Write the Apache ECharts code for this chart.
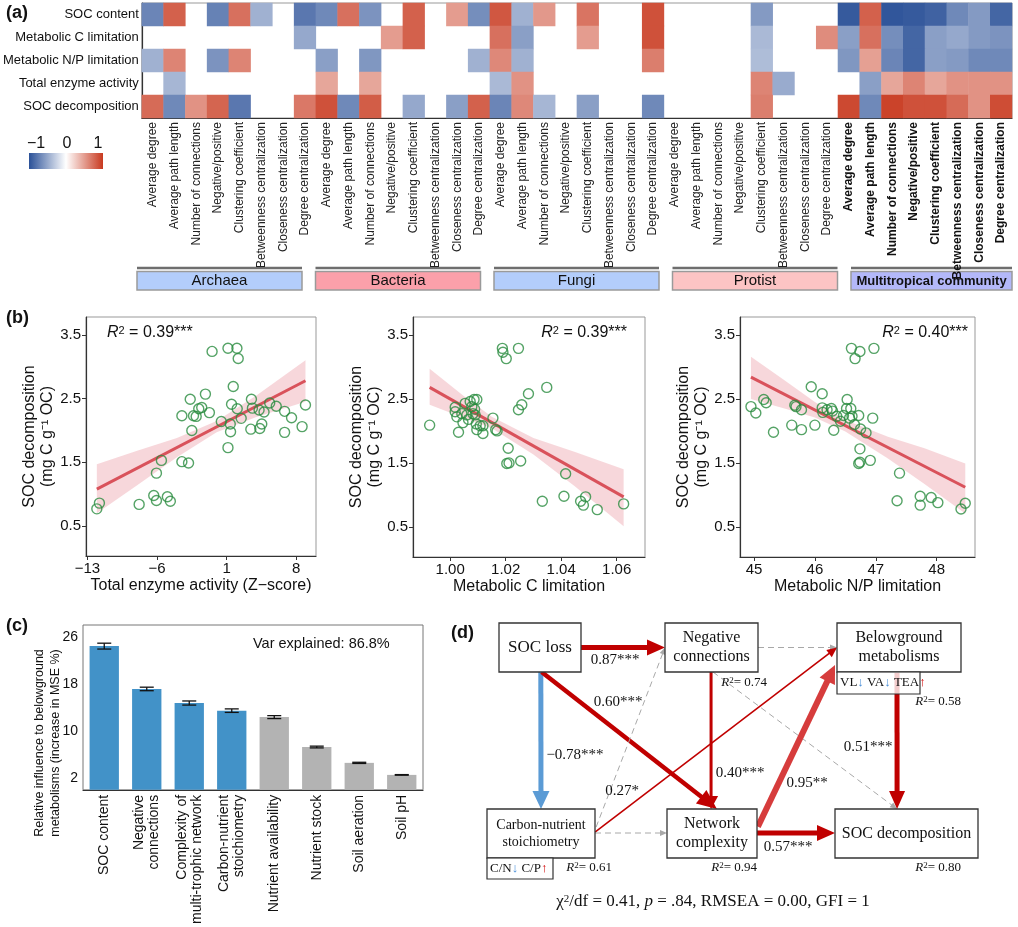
<!DOCTYPE html>
<html><head><meta charset="utf-8">
<script src="https://cdn.jsdelivr.net/npm/echarts@6.0.0/dist/echarts.min.js"></script>
<style>html,body{margin:0;padding:0;background:#fff}#c{width:1018px;height:927px}</style>
</head><body><div id="c"></div>
<script>
// ================= DATA =================
// (a) heatmap
const heatRows = ['SOC content','Metabolic C limitation','Metabolic N/P limitation','Total enzyme activity','SOC decomposition'];
const groupNames = ['Archaea','Bacteria','Fungi','Protist','Multitropical community'];
const metricNames = ['Average degree','Average path length','Number of connections','Negative/positive','Clustering coefficient','Betweenness centralization','Closeness centralization','Degree centralization'];
const _ = null;
const rSOCcontent = [-0.7,0.8,_,-0.72,0.72,-0.45,_,-0.78, -0.68,0.72,-0.62,_,0.8,_,0.5,-0.65, 0.85,-0.45,0.52,_,0.7,_,_,0.88, _,_,_,_,-0.58,_,_,_, -0.95,0.8,-0.97,-0.95,-0.9,-0.68,-0.58,-0.88];
const rMetC = [_,_,_,_,_,_,_,-0.5, _,_,_,0.5,0.8,_,_,_, 0.72,-0.55,_,_,0.5,_,_,0.88, _,_,_,_,-0.4,_,_,0.58, -0.55,0.72,-0.65,-0.88,-0.55,-0.5,-0.58,-0.62];
const rMetNP = [-0.45,0.62,_,-0.62,0.62,_,_,_, -0.55,_,-0.6,_,_,_,_,-0.45, 0.6,-0.45,_,_,_,_,_,0.65, _,_,_,_,-0.38,_,_,_, -0.6,0.48,-0.7,-0.88,-0.55,-0.58,-0.68,-0.68];
const rTEA = [_,-0.42,_,_,_,_,_,_, 0.45,_,0.45,_,_,_,_,_, -0.4,0.55,_,_,_,_,_,_, _,_,_,_,0.62,-0.48,_,_, _,-0.55,0.45,0.62,0.45,0.55,0.55,0.55];
const rSOCdec = [0.75,-0.68,0.55,0.78,-0.78,_,_,0.68, 0.88,-0.68,0.82,_,-0.5,_,-0.55,0.8, -0.7,0.6,-0.42,_,-0.55,_,_,-0.68, _,_,_,_,0.65,_,_,_, 0.92,-0.68,0.95,0.88,0.88,0.75,0.55,0.9];
const colorbarTicks = ['−1','0','1'];

// (b) scatter panels
const teaX = [-12.06,-11.8,-7.8,-6.33,-6.06,-4.96,-4.66,-6.06,-5.56,-3.5,-2.83,-2.5,-3.5,-2.66,-2.33,-2.06,-1.8,-1.5,-1.13,-0.73,-0.46,0.47,1.14,2.04,2.17,1.67,1.5,2.07,1.37,1.4,1.14,2.47,3.5,3.6,3.44,4.27,4.34,4.54,4.77,5.34,6.0,6.84,6.84,7.54,8.6,8.94];
const teaY = [0.77,0.86,0.84,0.98,0.90,0.96,0.89,1.33,1.53,1.51,1.49,2.0,2.23,2.49,2.23,2.22,2.34,2.36,2.57,2.28,3.24,2.14,3.29,3.29,3.13,2.69,2.41,2.34,2.10,1.98,1.73,2.19,2.49,2.35,2.02,2.32,2.03,2.10,2.29,2.43,2.38,2.30,1.97,2.20,2.06,2.40];
const teaFitX = [-12.06, 8.94], teaFitY = [1.08, 2.78];
const teaBandX = [-12.06,-8,-4,0,4,8.94];
const teaBandLo = [0.70,1.14,1.58,1.97,2.21,2.45];
const teaBandHi = [1.47,1.68,1.88,2.15,2.55,3.10];
const teaTicks = [-13,-6,1,8];

const mclX = [0.9926,1.003,1.0018,1.0018,1.0024,1.0042,1.0046,1.0054,1.006,1.0066,1.0072,1.0078,1.0082,1.0086,1.0096,1.0088,1.009,1.0094,1.0096,1.0108,1.0118,1.0118,1.0154,1.0164,1.0169,1.0188,1.019,1.0202,1.0246,1.0209,1.0204,1.0212,1.0254,1.0246,1.0258,1.0282,1.0348,1.0332,1.041,1.0416,1.047,1.048,1.0488,1.053,1.0625];
const mclY = [2.09,1.98,2.37,2.30,2.22,2.27,2.13,2.43,2.25,2.18,2.46,2.38,2.27,2.49,2.49,2.34,2.25,2.11,2.02,2.08,2.08,1.96,2.20,2.02,2.00,3.29,3.23,3.13,3.29,1.73,1.49,1.50,1.53,2.33,2.41,2.58,2.68,0.90,0.98,1.33,0.90,0.84,0.97,0.77,0.86];
const mclFitX = [0.9926, 1.0625], mclFitY = [2.68, 0.97];
const mclBandX = [0.9926,1.005,1.015,1.03,1.045,1.0625];
const mclBandLo = [2.41,2.20,2.04,1.63,1.13,0.51];
const mclBandHi = [2.97,2.54,2.22,1.89,1.67,1.40];
const mclTicks = [1.00,1.02,1.04,1.06];

const mnpX = [44.95,45.03,45.16,45.2,45.32,45.62,45.67,45.69,45.78,45.78,45.94,46.0,46.12,46.12,46.13,46.2,46.27,46.29,46.31,46.36,46.42,46.47,46.53,46.52,46.57,46.59,46.6,46.61,46.66,46.65,46.74,46.72,46.75,46.74,46.72,46.74,46.84,46.91,46.95,46.97,47.35,47.39,47.73,47.73,47.91,48.02,48.4,48.47];
const mnpY = [2.38,2.28,2.49,2.44,1.98,2.09,2.40,2.38,2.33,2.02,2.69,2.09,2.58,2.36,2.29,2.33,2.35,2.31,2.01,2.23,2.15,2.24,2.49,2.35,2.20,2.35,3.29,2.23,3.13,2.10,3.24,2.24,2.03,1.72,1.49,1.51,1.97,1.54,2.20,3.29,0.91,1.34,0.98,0.84,0.96,0.88,0.78,0.87];
const mnpFitX = [44.95, 48.47], mnpFitY = [2.84, 1.12];
const mnpBandX = [44.95,45.5,46.0,46.5,47.2,47.8,48.47];
const mnpBandLo = [2.50,2.35,2.21,1.99,1.57,1.17,0.71];
const mnpBandHi = [3.16,2.79,2.45,2.17,1.91,1.73,1.49];
const mnpTicks = [45,46,47,48];

const socTicks = [0.5,1.5,2.5,3.5];
const r2Labels = ['0.39***','0.39***','0.40***'];

// (c) random forest importance
const barCats = ['SOC content','Negative\nconnections','Complexity of\nmulti-trophic network','Carbon-nutrient\nstoichiometry','Nutrient availability','Nutrient stock','Soil aeration','Soil pH'];
const barVals = [24.5,17.2,14.8,13.5,12.4,7.3,4.6,2.55];
const barErr = [0.5,0.3,0.35,0.3,0.25,0.15,0.1,0.05];
const barTicks = [2,10,18,26];
const varExplained = 86.8;

// (d) structural equation model
const nodeIds = ['socLoss','neg','below','cn','net','socDec'];
const nodeLabels = ['SOC loss','Negative\nconnections','Belowground\nmetabolisms','Carbon-nutrient\nstoichiometry','Network\ncomplexity','SOC decomposition'];
const nodeR2 = [null,0.74,0.58,0.61,0.94,0.80];
const pathFrom = ['socLoss','socLoss','socLoss','neg','neg','neg','cn','cn','cn','net','net','below'];
const pathTo   = ['neg','cn','net','net','below','socDec','neg','below','net','below','socDec','socDec'];
const pathCoef = [0.87,-0.78,0.60,0.40,null,null,null,0.27,null,0.95,0.57,0.51];
const pathSig  = ['***','***','***','***','','','','*','','**','***','***'];
const belowInd = ['VL','VA','TEA'], belowDir = ['down','down','up'];
const cnInd = ['C/N','C/P'], cnDir = ['down','up'];
const fitStats = {chi2df:'0.41', p:'.84', rmsea:'0.00', gfi:'1'};

// ================= LAYOUT / STYLE =================
const SANS = '"Liberation Sans", Arial, sans-serif';
const SERIF = '"Liberation Serif", "Times New Roman", serif';
const RED = '#c00000', BLUE = '#5b9bd5', GREY = '#a8a8a8';

const nodeBox = { socLoss:[499,623,82,49], neg:[665,623,93,49], below:[837,623,124,49], cn:[487,809,108,49], net:[667,809,90,49], socDec:[835,809,143,49] };
const nodeFont = { socLoss:17, neg:16, below:16, cn:14, net:16, socDec:16 };
const nodeR2Pos = { neg:[767,683], below:[961,702], cn:[612,868], net:[757,868], socDec:[961,868] };
const edgeAnchor = [
  [[1,0.5],[0,0.5]], [[0.51,1],[0.5,0]], [[0.52,1],[0.555,0]], [[0.495,1],[0.49,0]],
  [[1,0.5],[0,0.5]], [[0.516,1],[0.434,0]], [[1.01,0.37],[0,0.5]], [[1,0.47],[0,0.5]],
  [[1,0.49],[0,0.49]], [[1.01,0.36],[-0.016,0.857]], [[1,0.49],[0,0.49]], [[0.484,1],[0.434,0]]
];
const edgeColor = [RED,BLUE,RED,RED,GREY,GREY,GREY,RED,GREY,'#d63c3c',RED,RED];
const edgeWidth = [5,5,4.5,3,1,1,1,1.6,1,6,5,5];
const edgeHead = [[18,8],[18,8.5],[20,8.5],[13,7],[7,3],[7,3],[7,3],[10,4.5],[7,3],[18,8.5],[18,8],[18,8]];
const edgeLabelPos = {0:[615,660],1:[575,755],2:[618,702],3:[740,773],7:[622,791],9:[807,783],10:[788,847],11:[868,747]};
const subBoxes = [ {box:[837,672,83,22], ind:belowInd, dir:belowDir}, {box:[487,858,66,21], ind:cnInd, dir:cnDir} ];

const HM = {left:137, top:3, width:875, height:115};
const groupFill = ['#b3cdfb','#fba0aa','#b3cdfb','#fcc4c4','#b3b8f9'];

// ================= BUILD =================
const heatValues = [rSOCcontent, rMetC, rMetNP, rTEA, rSOCdec];
const heatCols = [];
groupNames.forEach(g => metricNames.forEach(m => heatCols.push(g + '|' + m)));
const heatData = [];
heatValues.forEach((row, r) => row.forEach((v, c) => { if (v !== null) heatData.push([c, r, v]); }));

const minus = v => (v < 0 ? '−' + Math.abs(v) : String(v));

function scatterAxes(gi, xmin, xmax, ticks, xfmt, xname) {
  const x = {
    type:'value', gridIndex:gi, min:xmin, max:xmax, name:xname, nameLocation:'middle', nameGap:22,
    nameTextStyle:{fontSize:16, color:'#111', fontFamily:SANS},
    axisLine:{onZero:false, lineStyle:{color:'#333', width:1.2}},
    axisTick:{customValues:ticks, length:4, lineStyle:{color:'#333'}},
    axisLabel:{customValues:ticks, formatter:xfmt, fontSize:15, color:'#111', margin:5, fontFamily:SANS},
    splitLine:{show:false}
  };
  const y = {
    type:'value', gridIndex:gi, min:0.03, max:3.78, name:'SOC decomposition\n(mg C g⁻¹ OC)', nameLocation:'middle', nameGap:20,
    nameTextStyle:{fontSize:16, color:'#111', lineHeight:18, fontFamily:SANS},
    axisLine:{onZero:false, lineStyle:{color:'#333', width:1.2}},
    axisTick:{customValues:socTicks, length:4, lineStyle:{color:'#333'}},
    axisLabel:{customValues:socTicks, formatter:v => v.toFixed(1), fontSize:15, color:'#111', margin:5, fontFamily:SANS},
    splitLine:{show:false}
  };
  return [x, y];
}

function bandSeries(ai, bx, lo, hi) {
  return {
    type:'custom', xAxisIndex:ai, yAxisIndex:ai, clip:false, silent:true, z:1,
    data: bx.map((x,i) => [x, lo[i], hi[i]]),
    encode:{x:0, y:[1,2]},
    renderItem: (params, api) => {
      if (params.dataIndex !== 0) return null;
      const pts = [];
      for (let i = 0; i < bx.length; i++) pts.push(api.coord([bx[i], hi[i]]));
      for (let i = bx.length - 1; i >= 0; i--) pts.push(api.coord([bx[i], lo[i]]));
      return {type:'polygon', shape:{points:pts}, style:{fill:'rgba(236,160,170,0.42)'}};
    }
  };
}
function fitSeries(ai, fx, fy) {
  return {type:'line', xAxisIndex:ai, yAxisIndex:ai, data: fx.map((x,i)=>[x, fy[i]]), symbol:'none', silent:true, z:3,
    lineStyle:{color:'#d9525b', width:3}};
}
function pointSeries(ai, xs, ys) {
  return {type:'scatter', xAxisIndex:ai, yAxisIndex:ai, data: xs.map((x,i)=>[x, ys[i]]), symbol:'circle', symbolSize:10, z:4,
    itemStyle:{color:'rgba(0,0,0,0)', borderColor:'#2a8c40', borderWidth:1.4}};
}

const [x1, y1] = scatterAxes(1, -13.15, 10.0, teaTicks, minus, 'Total enzyme activity (Z−score)');
const [x2, y2] = scatterAxes(2, 0.9866, 1.0702, mclTicks, v => v.toFixed(2), 'Metabolic C limitation');
const [x3, y3] = scatterAxes(3, 44.77, 48.63, mnpTicks, v => String(v), 'Metabolic N/P limitation');

function nodeAnchor(id, fx, fy) { const b = nodeBox[id]; return [b[0] + fx*b[2], b[1] + fy*b[3]]; }
const fmtCoef = c => (c < 0 ? '−' : '') + Math.abs(c).toFixed(2);

const edgeSeries = {
  type:'custom', xAxisIndex:5, yAxisIndex:5, clip:false, silent:true, z:5,
  data: pathCoef.map((c,i) => [i, c === null ? 0 : c]),
  renderItem: (params, api) => {
    const i = params.dataIndex;
    const an = edgeAnchor[i];
    const a = api.coord(nodeAnchor(pathFrom[i], an[0][0], an[0][1]));
    const b = api.coord(nodeAnchor(pathTo[i], an[1][0], an[1][1]));
    const sig = pathCoef[i] !== null;
    const color = edgeColor[i], w = edgeWidth[i], hl = edgeHead[i][0], hw = edgeHead[i][1];
    const dx = b[0]-a[0], dy = b[1]-a[1], L = Math.hypot(dx,dy), ux = dx/L, uy = dy/L;
    const base = [b[0]-ux*hl, b[1]-uy*hl];
    const ls = {stroke:color, lineWidth:w};
    if (!sig) ls.lineDash = [6,4];
    const children = [
      {type:'line', shape:{x1:a[0], y1:a[1], x2:base[0]+ux, y2:base[1]+uy}, style:ls},
      {type:'polygon', shape:{points:[b, [base[0]-uy*hw, base[1]+ux*hw], [base[0]+uy*hw, base[1]-ux*hw]]}, style:{fill:color}}
    ];
    if (sig) {
      const p = api.coord(edgeLabelPos[i]);
      children.push({type:'text', x:p[0], y:p[1], z2:10, style:{text: fmtCoef(pathCoef[i]) + pathSig[i], fontFamily:SERIF, fontSize:15, fill:'#111', align:'center', verticalAlign:'middle'}});
    }
    return {type:'group', children};
  }
};

const nodeSeries = {
  type:'custom', xAxisIndex:5, yAxisIndex:5, clip:false, silent:true, z:6,
  data: nodeIds.map((id,i) => [i, nodeR2[i] === null ? 0 : nodeR2[i]]),
  renderItem: (params, api) => {
    const i = params.dataIndex, id = nodeIds[i], b = nodeBox[id];
    const p0 = api.coord([b[0], b[1]]), p1 = api.coord([b[0]+b[2], b[1]+b[3]]);
    const children = [
      {type:'rect', shape:{x:p0[0], y:p0[1], width:p1[0]-p0[0], height:p1[1]-p0[1]}, style:{fill:'#fff', stroke:'#333', lineWidth:1.3}},
      {type:'text', x:(p0[0]+p1[0])/2, y:(p0[1]+p1[1])/2, style:{text:nodeLabels[i], fontFamily:SERIF, fontSize:nodeFont[id], lineHeight:nodeFont[id]+3, fill:'#111', align:'center', verticalAlign:'middle'}}
    ];
    if (nodeR2[i] !== null) {
      const q = api.coord(nodeR2Pos[id]);
      children.push({type:'text', x:q[0], y:q[1], style:{text:'{i|R}{s|2}{n|= ' + nodeR2[i].toFixed(2) + '}', align:'right', verticalAlign:'middle',
        rich:{i:{fontFamily:SERIF, fontStyle:'italic', fontSize:13, fill:'#111'}, s:{fontFamily:SERIF, fontSize:9, fill:'#111', verticalAlign:'top', lineHeight:13}, n:{fontFamily:SERIF, fontSize:13, fill:'#111'}}}});
    }
    return {type:'group', children};
  }
};

const subSeries = {
  type:'custom', xAxisIndex:5, yAxisIndex:5, clip:false, silent:true, z:7,
  data: subBoxes.map((s,i) => [i, 0]),
  renderItem: (params, api) => {
    const s = subBoxes[params.dataIndex], b = s.box;
    const p0 = api.coord([b[0], b[1]]), p1 = api.coord([b[0]+b[2], b[1]+b[3]]);
    const txt = s.ind.map((t,k) => '{n|' + t + '}' + (s.dir[k] === 'down' ? '{d|↓}' : '{u|↑}')).join('{n| }');
    return {type:'group', children:[
      {type:'rect', shape:{x:p0[0], y:p0[1], width:p1[0]-p0[0], height:p1[1]-p0[1]}, style:{fill:'rgba(255,255,255,0.8)', stroke:'#333', lineWidth:1.2}},
      {type:'text', x:p0[0]+3, y:(p0[1]+p1[1])/2, style:{text:txt, align:'left', verticalAlign:'middle',
        rich:{n:{fontFamily:SERIF, fontSize:13, fill:'#111'}, d:{fontFamily:SERIF, fontSize:13, fill:'#4a8fd8', fontWeight:'bold'}, u:{fontFamily:SERIF, fontSize:13, fill:'#d00000', fontWeight:'bold'}}}}
    ]};
  }
};

// graphic decorations
const graphic = [];
const panelLbl = (t, x, y) => graphic.push({type:'text', x, y, style:{text:t, fontFamily:SANS, fontSize:18, fontWeight:'bold', fill:'#111', verticalAlign:'middle'}});
panelLbl('(a)', 6, 13); panelLbl('(b)', 6, 318); panelLbl('(c)', 6, 626); panelLbl('(d)', 451, 633);

graphic.push({type:'rect', shape:{x:29, y:153, width:74, height:16}, style:{fill:new echarts.graphic.LinearGradient(0,0,1,0,[{offset:0,color:'#2b5198'},{offset:0.5,color:'#ffffff'},{offset:1,color:'#c8391f'}])}});
[36, 67, 98].forEach((x,k) => graphic.push({type:'text', x, y:144, style:{text:colorbarTicks[k], fontFamily:SANS, fontSize:16, fill:'#111', align:'center', verticalAlign:'middle'}}));

groupNames.forEach((g,k) => {
  const x0 = 137 + k*178.5, w = (k === 4) ? 161 : 165;
  graphic.push({type:'line', shape:{x1:x0, y1:268, x2:x0+w, y2:268}, style:{stroke:'#6e6e6e', lineWidth:2.5}});
  graphic.push({type:'rect', shape:{x:x0, y:271.5, width:w, height:18.5}, style:{fill:groupFill[k], stroke:'#9a9a9a', lineWidth:1.5}});
  graphic.push({type:'text', x:x0+w/2, y:281, style:{text:g, fontFamily:SANS, fontSize:(k===4)?13:15, fontWeight:(k===4)?'bold':'normal', fill:'#111', align:'center', verticalAlign:'middle'}});
});

const r2Pos = [[107,333,'left'],[627,333,'right'],[968,333,'right']];
r2Pos.forEach((p,k) => graphic.push({type:'text', x:p[0], y:p[1], style:{text:'{i|R}{s|2}{n| = ' + r2Labels[k] + '}', align:p[2], verticalAlign:'middle',
  rich:{i:{fontFamily:SANS, fontStyle:'italic', fontSize:16, fill:'#111'}, s:{fontFamily:SANS, fontSize:11, fill:'#111', verticalAlign:'top', lineHeight:16}, n:{fontFamily:SANS, fontSize:16, fill:'#111'}}}}));

graphic.push({type:'text', x:253, y:644, style:{text:'Var explained: ' + varExplained + '%', fontFamily:SANS, fontSize:14.5, fill:'#111', verticalAlign:'middle'}});

// y-axis title of panel (c), centred as in the reference (below the plot centre)
graphic.push({type:'text', x:47.5, y:743, rotation:Math.PI/2, style:{text:'Relative influence to belowground\nmetabolisms (increase in MSE %)', fontFamily:SANS, fontSize:12.5, lineHeight:16, fill:'#111', align:'center', verticalAlign:'middle'}});

graphic.push({type:'text', x:713, y:902, style:{
  text:'{n|χ}{s|2}{n|/df = ' + fitStats.chi2df + ', }{i|p}{n| = ' + fitStats.p + ', RMSEA = ' + fitStats.rmsea + ', GFI = ' + fitStats.gfi + '}',
  align:'center', verticalAlign:'middle',
  rich:{n:{fontFamily:SERIF, fontSize:17, fill:'#111'}, i:{fontFamily:SERIF, fontSize:17, fontStyle:'italic', fill:'#111'}, s:{fontFamily:SERIF, fontSize:11, fill:'#111', verticalAlign:'top', lineHeight:17}}}});

const option = {
  animation:false,
  textStyle:{fontFamily:SANS},
  grid:[
    {left:HM.left, top:HM.top, width:HM.width, height:HM.height, show:true, borderColor:'#999', borderWidth:1},
    {left:86, top:317, width:230, height:239, show:true, borderColor:'#999'},
    {left:413, top:317, width:232, height:240, show:true, borderColor:'#999'},
    {left:740, top:317, width:235, height:240, show:true, borderColor:'#999'},
    {left:83, top:625, width:340, height:169, show:true, borderColor:'#777'},
    {left:0, top:0, width:1018, height:927}
  ],
  xAxis:[
    {type:'category', gridIndex:0, data:heatCols, axisTick:{show:false}, axisLine:{lineStyle:{color:'#333', width:1.2}},
      axisLabel:{interval:0, rotate:90, fontSize:12, color:'#222', margin:4, fontFamily:SANS,
        formatter: v => { const parts = v.split('|'); return parts[0] === 'Multitropical community' ? '{b|' + parts[1] + '}' : parts[1]; },
        rich:{b:{fontWeight:'bold', fontSize:12, fontFamily:SANS, color:'#111'}}}},
    x1, x2, x3,
    {type:'category', gridIndex:4, data:barCats, axisTick:{show:false}, axisLine:{lineStyle:{color:'#333', width:1.2}},
      axisLabel:{interval:0, rotate:90, fontSize:14, lineHeight:15, color:'#111', margin:5, fontFamily:SANS}},
    {type:'value', gridIndex:5, min:0, max:1018, show:false}
  ],
  yAxis:[
    {type:'category', gridIndex:0, data:heatRows, inverse:true, axisTick:{show:false}, axisLine:{lineStyle:{color:'#333', width:1.2}},
      axisLabel:{fontSize:13, color:'#111', margin:3, fontFamily:SANS}},
    y1, y2, y3,
    {type:'value', gridIndex:4, min:0, max:28.1,
      axisLine:{onZero:false, lineStyle:{color:'#333', width:1.2}},
      axisTick:{customValues:barTicks, length:4, lineStyle:{color:'#333'}},
      axisLabel:{customValues:barTicks, fontSize:14, color:'#111', margin:5, fontFamily:SANS},
      splitLine:{show:false}},
    {type:'value', gridIndex:5, min:0, max:927, inverse:true, show:false}
  ],
  visualMap:{type:'continuous', min:-1, max:1, seriesIndex:0, show:false, inRange:{color:['#2b5198','#ffffff','#c8391f']}},
  graphic: graphic,
  series:[
    {type:'heatmap', xAxisIndex:0, yAxisIndex:0, data:heatData, itemStyle:{borderWidth:0}, emphasis:{disabled:true}},
    bandSeries(1, teaBandX, teaBandLo, teaBandHi), fitSeries(1, teaFitX, teaFitY), pointSeries(1, teaX, teaY),
    bandSeries(2, mclBandX, mclBandLo, mclBandHi), fitSeries(2, mclFitX, mclFitY), pointSeries(2, mclX, mclY),
    bandSeries(3, mnpBandX, mnpBandLo, mnpBandHi), fitSeries(3, mnpFitX, mnpFitY), pointSeries(3, mnpX, mnpY),
    {type:'bar', xAxisIndex:4, yAxisIndex:4, barWidth:'69%',
      data: barVals.map((v,i) => ({value:v, itemStyle:{color: i < 4 ? '#4292c8' : '#b3b3b3'}}))},
    {type:'custom', xAxisIndex:4, yAxisIndex:4, z:5, silent:true,
      data: barVals.map((v,i) => [i, v - barErr[i], v + barErr[i]]),
      renderItem: (params, api) => {
        const lo = api.coord([api.value(0), api.value(1)]), hi = api.coord([api.value(0), api.value(2)]);
        const cw = 7;
        const st = {stroke:'#111', lineWidth:1.3};
        return {type:'group', children:[
          {type:'line', shape:{x1:lo[0], y1:lo[1], x2:hi[0], y2:hi[1]}, style:st},
          {type:'line', shape:{x1:lo[0]-cw, y1:lo[1], x2:lo[0]+cw, y2:lo[1]}, style:st},
          {type:'line', shape:{x1:hi[0]-cw, y1:hi[1], x2:hi[0]+cw, y2:hi[1]}, style:st}
        ]};
      }},
    edgeSeries, nodeSeries, subSeries
  ]
};

const chart = echarts.init(document.getElementById('c'));
chart.setOption(option);
</script></body></html>
